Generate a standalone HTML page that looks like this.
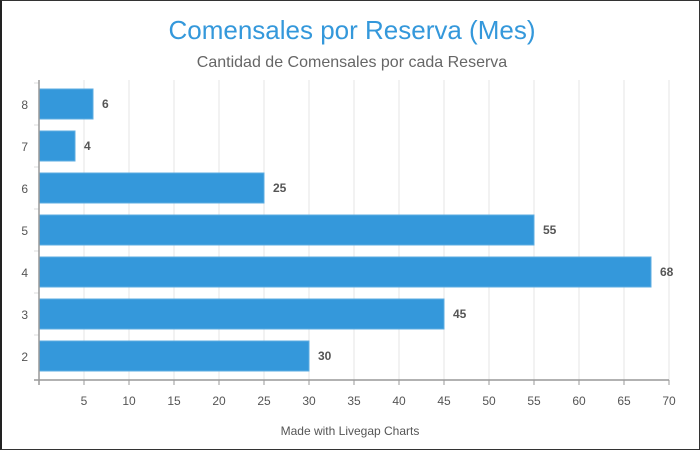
<!DOCTYPE html>
<html><head><meta charset="utf-8"><style>
html,body{margin:0;padding:0;background:#fff}
#wrap{position:relative;width:700px;height:450px;box-sizing:border-box;border:1px solid #333;border-left:2px solid #222;overflow:hidden;font-family:"Liberation Sans",sans-serif}
</style></head><body>
<div id="wrap">
<svg id="chart" width="700" height="450" style="position:absolute;left:-2px;top:-1px">
<text x="352" y="39" text-anchor="middle" font-size="26" fill="#3498db">Comensales por Reserva (Mes)</text>
<text x="352" y="67" text-anchor="middle" font-size="16" fill="#666">Cantidad de Comensales por cada Reserva</text>
<text x="350" y="435" text-anchor="middle" font-size="12" fill="#555">Made with Livegap Charts</text>
<g id="grid"></g><g id="bars"></g><g id="axes"></g>
</svg>
</div>
<script>
const categories = ["8","7","6","5","4","3","2"];
const values = [6,4,25,55,68,45,30];
const xTicks = [5,10,15,20,25,30,35,40,45,50,55,60,65,70];
const NS="http://www.w3.org/2000/svg";
const x0=39, x1=669, xMax=70, yTop=80, yBot=380, bandTop=83, band=42;
const xs=v=>x0+(x1-x0)*v/xMax;
const yc=i=>bandTop+band*(i+0.5);
function mk(tag,attrs,parent){const e=document.createElementNS(NS,tag);for(const k in attrs)e.setAttribute(k,attrs[k]);parent.appendChild(e);return e;}
const grid=document.getElementById('grid'),bars=document.getElementById('bars'),axes=document.getElementById('axes');
xTicks.forEach(t=>{
 const g=mk('line',{x1:xs(t),x2:xs(t),y1:yTop,y2:yBot,stroke:'#e4e4e4','stroke-width':1},grid);
 
 
 const tk=mk('line',{x1:xs(t),x2:xs(t),y1:yBot,y2:yBot+5,stroke:'#999'},axes);
 
 
 const l=mk('text',{x:xs(t),y:yBot+25,'text-anchor':'middle','font-size':12,fill:'#555'},axes);
 l.textContent=t;
 
 
});
categories.forEach((c,i)=>{
 const bh=30;
 const r=mk('rect',{x:x0,y:yc(i)-bh/2,width:xs(values[i])-x0,height:bh,fill:'#3498db',stroke:'#5dade2','stroke-width':1},bars);
 
 
 const v=mk('text',{x:xs(values[i])+9,y:yc(i)+4,'font-size':12,'font-weight':'bold',fill:'#555'},bars);
 v.textContent=values[i];
 
 
 const l=mk('text',{x:x0-11,y:yc(i)+5,'text-anchor':'end','font-size':12,fill:'#555'},axes);
 l.textContent=c;
 
 
 const tk=mk('line',{x1:x0-5,x2:x0,y1:bandTop+band*i,y2:bandTop+band*i,stroke:'#ddd'},axes);
 
 
});
const ya=mk('line',{x1:x0,x2:x0,y1:yTop,y2:yBot+5,stroke:'#999','stroke-width':1.5},axes);


const xa=mk('line',{x1:x0-5,x2:x1,y1:yBot,y2:yBot,stroke:'#999','stroke-width':1.5},axes);


</script>
</body></html>
